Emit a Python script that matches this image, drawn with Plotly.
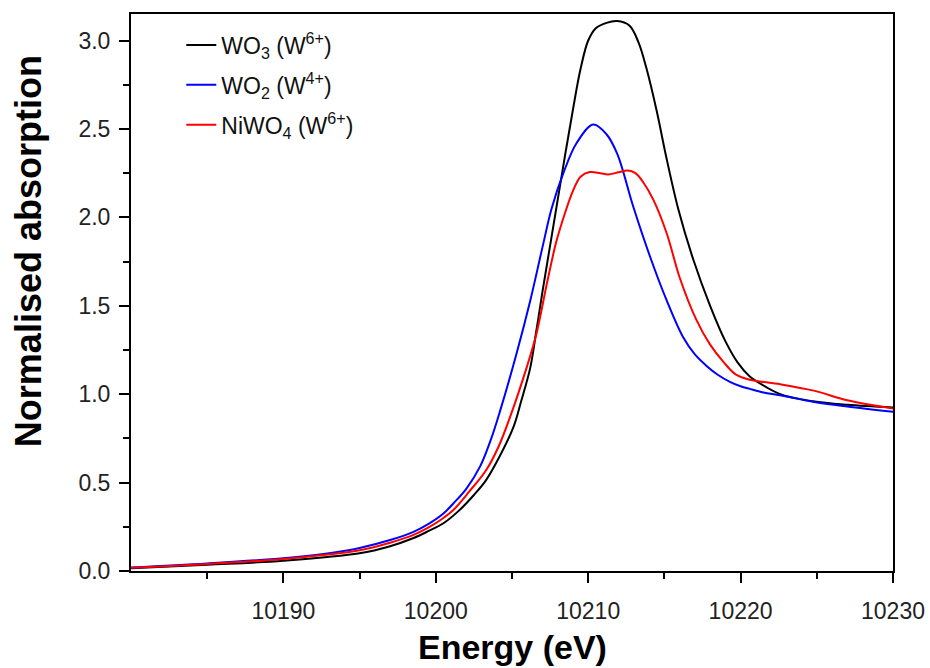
import plotly.graph_objects as go

# ---- data ----
e_wo3 = [10180, 10185, 10190, 10195, 10197, 10198.5, 10199.5, 10200.5, 10201.5, 10202.5,
         10203.3, 10204.2, 10205.1, 10205.6, 10206.2, 10206.6, 10207.0, 10207.5, 10208.0,
         10208.5, 10209.0, 10209.5, 10210.0, 10210.5, 10211.2, 10211.9, 10212.7, 10213.3,
         10213.8, 10214.5, 10215.1, 10215.9, 10216.9, 10218.0, 10219.0, 10219.8, 10220.6,
         10221.1, 10222.6, 10224.75, 10227, 10230]
y_wo3 = [0.015, 0.035, 0.058, 0.10, 0.14, 0.185, 0.225, 0.27, 0.34, 0.43,
         0.514, 0.65, 0.815, 0.96, 1.15, 1.36, 1.58, 1.84, 2.10,
         2.36, 2.61, 2.84, 3.00, 3.07, 3.10, 3.11, 3.085, 2.99,
         2.85, 2.60, 2.35, 2.05, 1.76, 1.50, 1.30, 1.18, 1.10,
         1.07, 1.00, 0.96, 0.94, 0.925]

e_wo2 = [10180, 10185, 10190, 10193, 10195, 10197, 10198.5, 10199.5, 10200.5, 10201.15,
         10202.0, 10202.9, 10203.6, 10204.2, 10205.3, 10206.2, 10207.05, 10207.6, 10208.37,
         10209.24, 10210.33, 10211.2, 10211.9, 10212.96, 10214.05, 10215.15, 10216.24,
         10217.0, 10217.77, 10218.5, 10219.3, 10220.0, 10220.6, 10221.5, 10222.6, 10224.75,
         10227, 10230]
y_wo2 = [0.02, 0.043, 0.072, 0.10, 0.13, 0.175, 0.22, 0.265, 0.325, 0.382,
         0.465, 0.59, 0.74, 0.90, 1.23, 1.53, 1.85, 2.05, 2.25,
         2.42, 2.525, 2.47, 2.36, 2.06, 1.78, 1.53, 1.32,
         1.225, 1.16, 1.11, 1.07, 1.045, 1.03, 1.01, 0.994, 0.957,
         0.93, 0.90]

e_niwo4 = [10180, 10185, 10190, 10195, 10197, 10198.5, 10199.5, 10200.5, 10201.15, 10202.2,
           10203.3, 10204.1, 10204.87, 10205.96, 10206.6, 10207.3, 10207.9, 10208.5, 10209.0,
           10209.5, 10210.1, 10210.8, 10211.3, 10212.0, 10212.6, 10213.1, 10213.6, 10214.27,
           10215.15, 10216.0, 10217.1, 10218.0, 10218.9, 10219.7, 10220.7, 10222.6, 10224.8,
           10227, 10230]
y_niwo4 = [0.018, 0.04, 0.068, 0.117, 0.16, 0.203, 0.245, 0.30, 0.345, 0.45,
           0.57, 0.70, 0.87, 1.15, 1.34, 1.63, 1.86, 2.03, 2.15,
           2.23, 2.256, 2.25, 2.243, 2.255, 2.265, 2.25, 2.20, 2.10,
           1.91, 1.66, 1.42, 1.28, 1.18, 1.11, 1.08, 1.056, 1.02,
           0.966, 0.919]

names = ["WO<sub>3</sub> (W<sup>6+</sup>)", "WO<sub>2</sub> (W<sup>4+</sup>)",
         "NiWO<sub>4</sub> (W<sup>6+</sup>)"]
colors = ["#000000", "#0000FF", "#FF0000"]

x_ticks = [10190, 10200, 10210, 10220, 10230]
x_minor = [10185, 10195, 10205, 10215, 10225]
y_ticks = [0.0, 0.5, 1.0, 1.5, 2.0, 2.5, 3.0]
y_tick_text = ["0.0", "0.5", "1.0", "1.5", "2.0", "2.5", "3.0"]

x_title = "Energy (eV)"
y_title = "Normalised absorption"

FONT = "Liberation Sans, Arial, sans-serif"

fig = go.Figure()
for i, (ex, yy) in enumerate([(e_wo3, y_wo3), (e_wo2, y_wo2), (e_niwo4, y_niwo4)]):
    fig.add_trace(go.Scatter(
        x=ex, y=yy, mode="lines", name=names[i], legendgroup=f"g{i}",
        line=dict(color=colors[i], width=2, shape="spline", smoothing=1.0),
    ))

fig.update_layout(
    width=930, height=668,
    margin=dict(l=131, r=37, t=14, b=97),
    paper_bgcolor="white", plot_bgcolor="white",
    font=dict(family=FONT, color="#111111"),
    showlegend=True,
    legend=dict(x=0.066, y=0.983, xanchor="left", yanchor="top",
                font=dict(size=23, family=FONT, color="#111111"),
                bgcolor="rgba(0,0,0,0)", tracegroupgap=7),
    xaxis=dict(
        range=[10180, 10230], tickvals=x_ticks, ticktext=[str(v) for v in x_ticks],
        ticks="outside", ticklen=10, tickwidth=2, tickcolor="black",
        showline=True, linewidth=2, linecolor="black", mirror=True,
        showgrid=False, zeroline=False, automargin=False,
        ticklabeloverflow="allow",
        tickfont=dict(size=23, family=FONT, color="#222222"),
        ticklabelstandoff=8,
        minor=dict(tickvals=x_minor, ticks="outside", ticklen=6, tickwidth=2,
                   tickcolor="black", showgrid=False),
    ),
    yaxis=dict(
        range=[0, 3.15], tickvals=y_ticks, ticktext=y_tick_text,
        ticks="outside", ticklen=10, tickwidth=2, tickcolor="black",
        showline=True, linewidth=2, linecolor="black", mirror=True,
        showgrid=False, zeroline=False, automargin=False,
        tickfont=dict(size=23, family=FONT, color="#222222"),
        ticklabelstandoff=4,
        minor=dict(dtick=0.25, tick0=0, ticks="outside", ticklen=6, tickwidth=2,
                   tickcolor="black", showgrid=False),
    ),
    annotations=[
        dict(text=f"<b>{x_title}</b>", xref="paper", yref="paper", x=0.5, y=-0.136,
             xanchor="center", yanchor="middle", showarrow=False,
             font=dict(size=34, family=FONT, color="black")),
        dict(text=f"<b>{y_title}</b>", xref="paper", yref="paper", x=-0.135, y=0.5745,
             xanchor="center", yanchor="middle", showarrow=False, textangle=-90,
             font=dict(size=36, family=FONT, color="black")),
    ],
)

fig.write_html("out.html")
